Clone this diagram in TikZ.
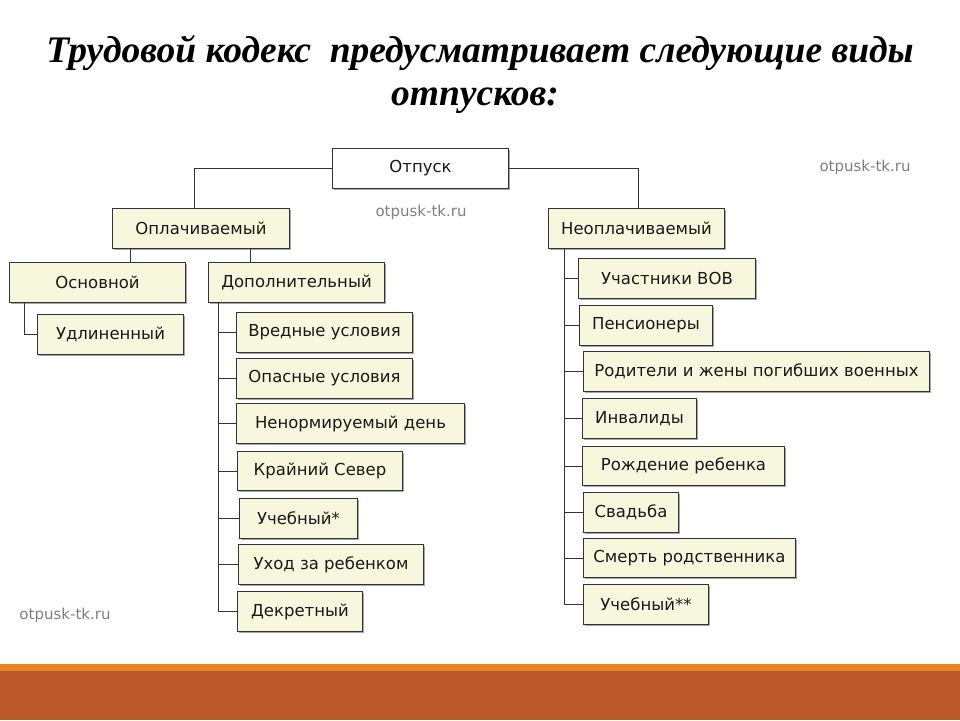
\documentclass[tikz,border=0pt]{standalone}
\usepackage{fontspec}
\setmainfont{DejaVu Sans}
\newfontfamily\titlefont{Liberation Serif}
\usetikzlibrary{shadows}
\definecolor{boxfill}{RGB}{247,247,222}
\definecolor{bandred}{RGB}{187,89,43}
\definecolor{bandorange}{RGB}{232,134,38}
\tikzset{
  box/.style={draw=black!80, line width=1pt, fill=boxfill, inner sep=0pt, anchor=north west,
    font=\fontsize{16.5}{19}\selectfont, text=black!90,
    drop shadow={shadow xshift=1.5pt, shadow yshift=-1.5pt, fill=black!35, opacity=1}},
  link/.style={draw=black!80, line width=1pt},
  wm/.style={text=black!50, font=\fontsize{15}{17}\selectfont},
  titlestyle/.style={font=\titlefont\bfseries\itshape\fontsize{37.5}{44}\selectfont, anchor=base}
}
\begin{document}
\begin{tikzpicture}[x=1pt,y=-1pt]
\useasboundingbox (0,0) rectangle (960,720);
\fill[white] (0,0) rectangle (960,720);
% bottom band
\fill[bandorange] (0,664) rectangle (960,671);
\fill[bandred] (0,671) rectangle (960,720);
% title
\node[titlestyle] (title1) at (480,62) {Трудовой кодекс\ \ предусматривает следующие виды};
\node[titlestyle] (title2) at (475,105) {отпусков:};
% watermarks
\node[wm] (wm1) at (421,212) {otpusk-tk.ru};
\node[wm] (wm2) at (865,167) {otpusk-tk.ru};
\node[wm] (wm3) at (65,615) {otpusk-tk.ru};
% boxes
\node[box, fill=white, minimum width=176pt, minimum height=40pt] (otp) at (332,148) {Отпуск};
\node[box, minimum width=177pt, minimum height=40pt] (opl) at (112,208) {Оплачиваемый};
\node[box, minimum width=176pt, minimum height=40pt] (osn) at (9,262) {Основной};
\node[box, minimum width=176pt, minimum height=40pt] (dop) at (208,262) {Дополнительный};
\node[box, minimum width=146pt, minimum height=40pt] (udl) at (37,314) {Удлиненный};
\node[box, minimum width=176pt, minimum height=40pt] (vred) at (236,312) {Вредные условия};
\node[box, minimum width=176pt, minimum height=40pt] (opas) at (236,358) {Опасные условия};
\node[box, minimum width=228pt, minimum height=40pt] (nenorm) at (236,403) {Ненормируемый день};
\node[box, minimum width=165pt, minimum height=39pt] (kraj) at (237,451) {Крайний Север};
\node[box, minimum width=118pt, minimum height=40pt] (ucheb) at (239,498) {Учебный*};
\node[box, minimum width=185pt, minimum height=40pt] (uhod) at (238,544) {Уход за ребенком};
\node[box, minimum width=125pt, minimum height=40pt] (dekr) at (237,591) {Декретный};
\node[box, minimum width=176pt, minimum height=40pt] (neo) at (548,208) {Неоплачиваемый};
\node[box, minimum width=177pt, minimum height=40pt] (vov) at (578,258) {Участники ВОВ};
\node[box, minimum width=133pt, minimum height=40pt] (pens) at (579,305) {Пенсионеры};
\node[box, minimum width=346pt, minimum height=40pt] (rodit) at (583,351) {Родители и жены погибших военных};
\node[box, minimum width=114pt, minimum height=40pt] (inv) at (582,398) {Инвалиды};
\node[box, minimum width=202pt, minimum height=39pt] (rozh) at (582,446) {Рождение ребенка};
\node[box, minimum width=95pt, minimum height=40pt] (svad) at (583,492) {Свадьба};
\node[box, minimum width=212pt, minimum height=39pt] (smert) at (583,538) {Смерть родственника};
\node[box, minimum width=125pt, minimum height=40pt] (ucheb2) at (583,584) {Учебный**};
% connectors
\draw[link] (otp.west) -| ([xshift=-7pt]opl.north);
\draw[link] (otp.east) -| ([xshift=2pt]neo.north);
\coordinate (a1) at ([xshift=18pt]opl.south west);
\coordinate (a2) at ([xshift=138pt]opl.south west);
\draw[link] (a1) -- (a1 |- osn.north);
\draw[link] (a2) -- (a2 |- dop.north);
\coordinate (os) at ([xshift=15pt]osn.south west);
\draw[link] (os) |- (udl.west);
\coordinate (ds) at ([xshift=10pt]dop.south west);
\foreach \c in {vred,opas,nenorm,kraj,ucheb,uhod,dekr} \draw[link] (ds) |- (\c.west);
\coordinate (ns) at ([xshift=16pt]neo.south west);
\foreach \c in {vov,pens,rodit,inv,rozh,svad,smert,ucheb2} \draw[link] (ns) |- (\c.west);
\end{tikzpicture}
\end{document}
